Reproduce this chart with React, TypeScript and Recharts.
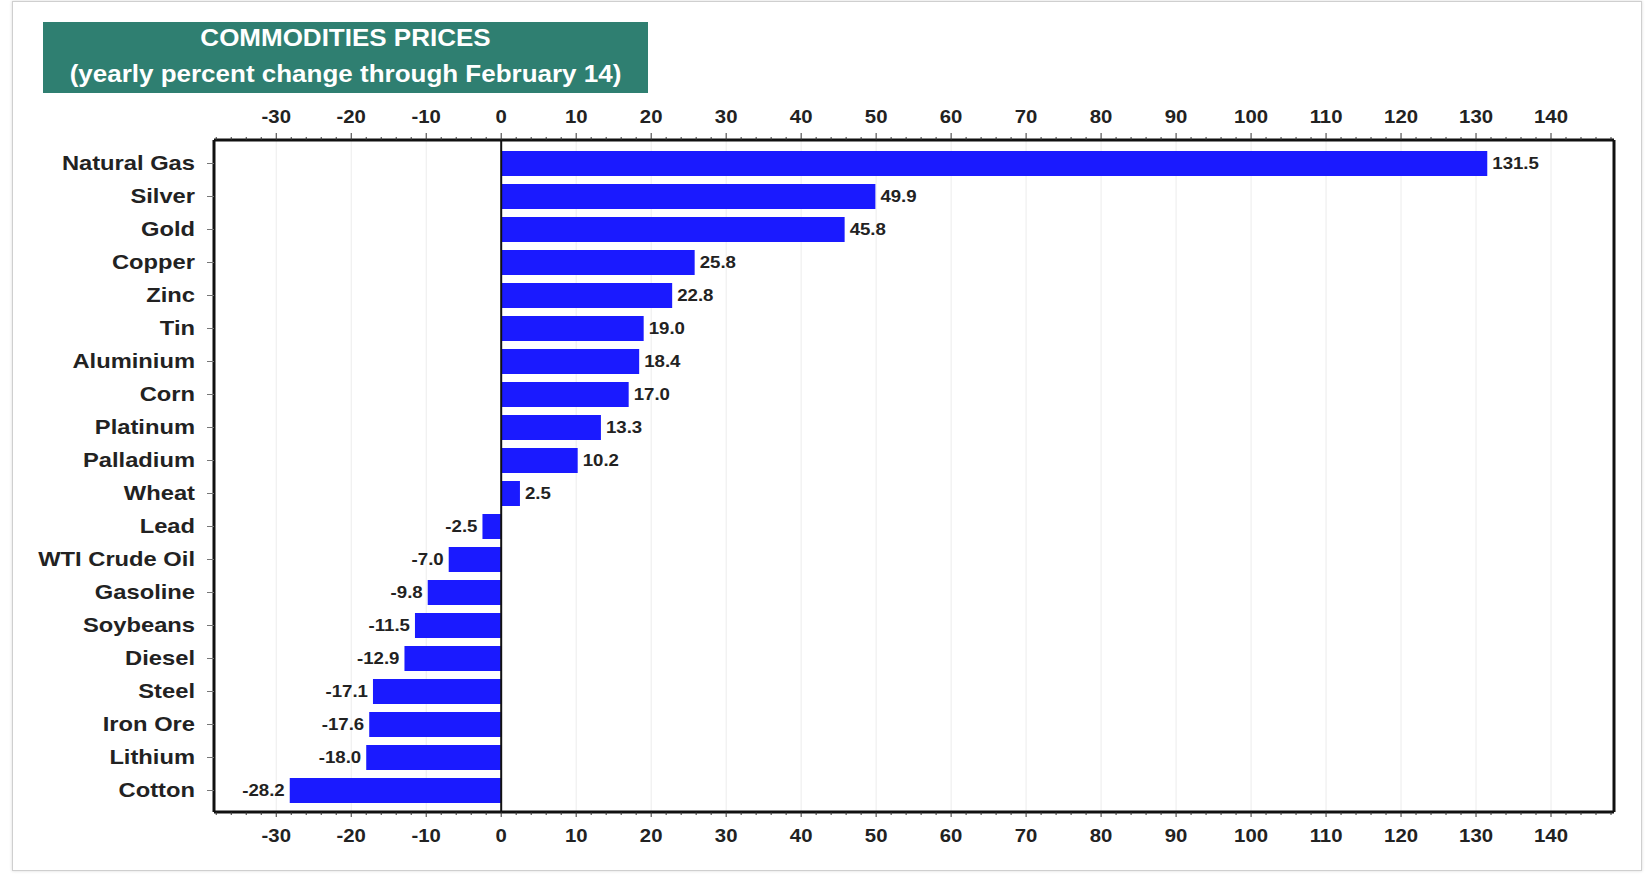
import React from "react"
import {
  ComposedChart,
  Bar,
  Line,
  XAxis,
  YAxis,
  CartesianGrid,
  ReferenceLine,
  LabelList,
} from "recharts"

const commodities = [
  "Natural Gas",
  "Silver",
  "Gold",
  "Copper",
  "Zinc",
  "Tin",
  "Aluminium",
  "Corn",
  "Platinum",
  "Palladium",
  "Wheat",
  "Lead",
  "WTI Crude Oil",
  "Gasoline",
  "Soybeans",
  "Diesel",
  "Steel",
  "Iron Ore",
  "Lithium",
  "Cotton",
]

const yearlyChange = [
  131.5, 49.9, 45.8, 25.8, 22.8, 19.0, 18.4, 17.0, 13.3, 10.2, 2.5, -2.5, -7.0, -9.8, -11.5,
  -12.9, -17.1, -17.6, -18.0, -28.2,
]

const majorTicks = [-30, -20, -10, 0, 10, 20, 30, 40, 50, 60, 70, 80, 90, 100, 110, 120, 130, 140]

const domainMin = -38.3
const domainMax = 148.4

// minor ticks every 2 units across the axis
const allTicks: number[] = []
for (let t = -38; t <= 148; t += 2) allTicks.push(t)

const data = commodities.map((name, i) => ({ name, value: yearlyChange[i] }))

const FONT = '"Liberation Sans", Arial, sans-serif'
// the source picture is stretched sideways a bit, so text is widened to match
const STRETCH = 1.13

function WideText({ x, y, anchor, size, children }: any) {
  return (
    <text
      transform={`translate(${x},${y}) scale(${STRETCH},1)`}
      x={0}
      y={0}
      textAnchor={anchor}
      fontFamily={FONT}
      fontWeight="bold"
      fontSize={size}
      fill="#222"
    >
      {children}
    </text>
  )
}

function TopTick(props: any) {
  const { x, y, payload } = props
  const major = payload.value % 10 === 0
  return (
    <g>
      <line x1={x} x2={x} y1={y} y2={y - (major ? 7 : 3)} stroke="#333" strokeWidth={1} />
      {major && (
        <WideText x={x} y={y - 17} anchor="middle" size={18}>
          {payload.value}
        </WideText>
      )}
    </g>
  )
}

function BottomTick(props: any) {
  const { x, y, payload } = props
  const major = payload.value % 10 === 0
  return (
    <g>
      <line x1={x} x2={x} y1={y} y2={y + (major ? 5 : 3)} stroke="#333" strokeWidth={1} />
      {major && (
        <WideText x={x} y={y + 30} anchor="middle" size={18}>
          {payload.value}
        </WideText>
      )}
    </g>
  )
}

function CategoryTick(props: any) {
  const { x, y, payload } = props
  return (
    <WideText x={x} y={y + 6} anchor="end" size={21}>
      {payload.value}
    </WideText>
  )
}

function ValueLabel(props: any) {
  const { x, y, width, height, value } = props
  const left = Math.min(x, x + width)
  const right = Math.max(x, x + width)
  const pos = value >= 0
  return (
    <WideText x={pos ? right + 5 : left - 5} y={y + height / 2 + 5.5} anchor={pos ? "start" : "end"} size={16.5}>
      {value.toFixed(1)}
    </WideText>
  )
}

export default function App() {
  return (
    <div style={{ position: "relative", width: 1647, height: 874, background: "#fff", fontFamily: FONT }}>
      <style>{`body{margin:0;background:#fff}`}</style>
      <div
        style={{
          position: "absolute",
          left: 12,
          top: 1,
          width: 1628,
          height: 868,
          border: "1px solid #cfcfcf",
          boxShadow: "0 0 3px rgba(0,0,0,0.15)",
        }}
      />
      <div style={{ position: "absolute", left: 0, top: 0 }}>
        <ComposedChart
          width={1647}
          height={874}
          data={data}
          layout="vertical"
          margin={{ top: 110, right: 33, bottom: 32, left: 14 }}
        >
          <CartesianGrid
            xAxisId="top"
            horizontal={false}
            verticalValues={majorTicks.filter((t) => t !== 0)}
            stroke="#ececec"
          />
          <XAxis
            xAxisId="top"
            orientation="top"
            type="number"
            domain={[domainMin, domainMax]}
            ticks={allTicks}
            interval={0}
            height={30}
            tickSize={0}
            tickMargin={0}
            tickLine={false}
            axisLine={{ stroke: "#111", strokeWidth: 3 }}
            tick={<TopTick />}
          />
          <XAxis
            xAxisId="bottom"
            orientation="bottom"
            type="number"
            domain={[domainMin, domainMax]}
            allowDataOverflow
            ticks={allTicks}
            interval={0}
            height={30}
            tickSize={0}
            tickMargin={0}
            tickLine={false}
            axisLine={{ stroke: "#111", strokeWidth: 3 }}
            tick={<BottomTick />}
          />
          <YAxis
            type="category"
            dataKey="name"
            width={200}
            padding={{ top: 7, bottom: 5 }}
            interval={0}
            tickSize={7}
            tickMargin={12}
            axisLine={{ stroke: "#111", strokeWidth: 3 }}
            tickLine={{ stroke: "#777" }}
            tick={<CategoryTick />}
          />
          <Bar xAxisId="top" dataKey="value" fill="#1a1aff" barSize={25} isAnimationActive={false}>
            <LabelList dataKey="value" content={<ValueLabel />} />
          </Bar>
          {/* invisible series so the bottom axis gets drawn */}
          <Line
            xAxisId="bottom"
            dataKey="value"
            stroke="none"
            dot={false}
            activeDot={false}
            legendType="none"
            isAnimationActive={false}
          />
          <ReferenceLine xAxisId="top" x={0} stroke="#111" strokeWidth={2} />
          <ReferenceLine xAxisId="top" x={domainMax} stroke="#111" strokeWidth={3} />
        </ComposedChart>
      </div>
      <div
        style={{
          position: "absolute",
          left: 43,
          top: 22,
          width: 605,
          height: 71,
          background: "#2f7f71",
          color: "#fff",
          textAlign: "center",
          fontWeight: "bold",
          fontSize: 23,
        }}
      >
        <div
          style={{
            position: "absolute",
            left: 0,
            right: 0,
            top: 2,
            lineHeight: "28px",
            transform: `scaleX(${STRETCH})`,
          }}
        >
          COMMODITIES PRICES
        </div>
        <div
          style={{
            position: "absolute",
            left: 0,
            right: 0,
            top: 38,
            lineHeight: "28px",
            transform: `scaleX(${STRETCH})`,
          }}
        >
          (yearly percent change through February 14)
        </div>
      </div>
    </div>
  )
}
